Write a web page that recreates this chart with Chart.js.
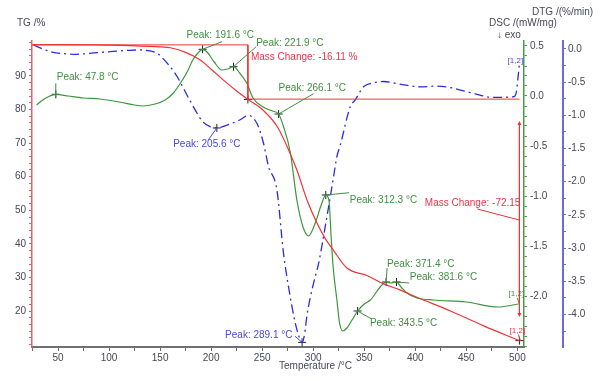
<!DOCTYPE html>
<html><head><meta charset="utf-8">
<script src="https://cdn.jsdelivr.net/npm/chart.js@4/dist/chart.umd.min.js"></script>
<style>html,body{margin:0;padding:0;background:#fff;}canvas{display:block;}</style>
</head><body>
<canvas id="c" width="600" height="381"></canvas>
<script>
// ---- data ----
const tgTemp = [25, 50, 100, 140, 160, 175, 189, 200, 215, 225, 236, 251, 265, 276, 284, 294, 304, 312, 320, 333, 352.6, 369, 385, 401.6, 434, 467, 502];
const tgValue = [99.3, 99.3, 99.2, 98.8, 98.4, 97.0, 94.8, 92.0, 88.0, 85.5, 83.0, 79.8, 74.8, 67.9, 62.0, 53.0, 46.0, 41.5, 38.0, 32.8, 30.6, 28.1, 26.3, 24.1, 20.1, 15.6, 11.2];

const dscTemp = [29, 35, 42, 47.8, 60, 75, 91, 110, 125, 133, 145, 155, 163, 170, 177, 182, 187, 191.6, 196, 203, 210.5, 216, 221.9, 228, 235, 241, 251, 260, 266.1, 271, 277.5, 284, 290, 295.4, 302, 308.5, 312.3, 315.5, 317.5, 319.6, 323.2, 325.8, 329, 333, 338, 343.5, 350, 356, 365.6, 371.4, 376, 381.6, 386, 391.8, 401.6, 418, 450, 481, 501];
const dscValue = [-0.09, -0.04, 0.0, 0.017, 0.0, -0.02, -0.03, -0.06, -0.09, -0.10, -0.08, -0.04, 0.03, 0.13, 0.25, 0.36, 0.43, 0.467, 0.44, 0.34, 0.26, 0.27, 0.293, 0.23, 0.127, -0.02, -0.11, -0.15, -0.18, -0.31, -0.56, -1.04, -1.31, -1.40, -1.27, -1.07, -0.99, -1.05, -1.40, -1.72, -2.04, -2.27, -2.35, -2.32, -2.24, -2.15, -2.08, -2.04, -1.91, -1.86, -1.87, -1.86, -1.91, -1.97, -2.02, -2.04, -2.06, -2.11, -2.08];

const dtgTemp = [26, 35, 45, 55, 68, 85, 101, 120, 130, 140, 147, 155, 166, 179, 192, 199, 205.6, 215, 228, 236.6, 244.8, 251.3, 256.2, 264.4, 270.9, 276, 282, 286, 289.1, 291.5, 294, 300.3, 305, 313.4, 320, 323.2, 326.5, 336.3, 341, 349.3, 359, 369, 385, 405, 421, 437, 457, 476.6, 496.4, 499, 500.5, 502];
const dtgValue = [0.06, 0.0, -0.05, -0.07, -0.08, -0.06, -0.04, -0.02, -0.015, -0.03, -0.065, -0.18, -0.40, -0.77, -1.10, -1.17, -1.19, -1.15, -1.07, -1.00, -1.12, -1.42, -1.77, -2.12, -3.08, -3.60, -4.10, -4.33, -4.42, -4.30, -4.00, -3.53, -3.25, -2.53, -1.92, -1.62, -1.45, -0.87, -0.77, -0.57, -0.51, -0.49, -0.53, -0.57, -0.56, -0.59, -0.67, -0.73, -0.72, -0.65, -0.45, -0.22];

const greenPeakT = [47.8, 191.6, 221.9, 266.1, 312.3, 343.5, 371.4, 381.6];
const greenPeakV = [0.017, 0.467, 0.293, -0.18, -0.99, -2.15, -1.86, -1.86];
const bluePeakT = [205.6, 289.1];
const bluePeakV = [-1.19, -4.42];

const massStepT = [24.5, 236, 236, 502];
const massStepV = [99.25, 99.25, 83.1, 83.1];
const massVertT = [502, 502];
const massVertV = [76.0, 18.8];
const massMidV = [91.2, 47.1];
const massLabels = ['Mass Change: -16.11 %', 'Mass Change: -72.15'];
const redMarkT = [236, 502];
const redMarkV = [83.0, 11.2];

// ---- styles / label placement (pixels) ----
const greenOff = [[1,-17,0,-11],[-16,-13.6,19.4,-7.6],[22.7,-23.7,22.7,-20],[0,-25.3,35,-20.3],[24,5,23.3,-2.3],[12.3,12,13.3,7.6],[1,-17.3,1,-14],[13.3,-4.3,12.6,1]];
const blueOff = [[-43.7,16.7,-8.4,11.7],[-77,-7,-7,-6]];

const FONT = '"Liberation Sans", Arial, sans-serif';
const TXT = '#474756';
const RED = '#ee3434', GREEN = '#3b963b', BLUE = '#2b2be6';
const pts = (xs, ys) => xs.map((x, i) => ({x: x, y: ys[i]}));
const fmtPeak = t => 'Peak: ' + t.toFixed(1) + ' \u00B0C';

const annot = {
  id: 'annot',
  afterDatasetsDraw(chart) {
    const ctx = chart.ctx, sx = chart.scales.x, sT = chart.scales.yTG, sD = chart.scales.yDSC, sG = chart.scales.yDTG;
    ctx.save();
    ctx.font = '10px ' + FONT;
    ctx.textBaseline = 'middle';
    ctx.lineWidth = 1;
    // green peak labels
    ctx.fillStyle = '#3f8f3f'; ctx.strokeStyle = '#3f8f3f';
    greenPeakT.forEach((t, i) => {
      const ax = sx.getPixelForValue(t), ay = sD.getPixelForValue(greenPeakV[i]);
      const o = greenOff[i];
      ctx.beginPath();
      if (i === 0) { ctx.moveTo(ax, ay + 3); } else { ctx.moveTo(ax, ay); }
      ctx.lineTo(ax + o[2], ay + o[3]); ctx.stroke();
      ctx.textAlign = 'left';
      ctx.fillText(fmtPeak(t), ax + o[0], ay + o[1]);
    });
    // blue peak labels
    ctx.fillStyle = '#4848e2'; ctx.strokeStyle = '#4848e2';
    bluePeakT.forEach((t, i) => {
      const ax = sx.getPixelForValue(t), ay = sG.getPixelForValue(bluePeakV[i]);
      const o = blueOff[i];
      ctx.beginPath();
      if (i === 1) { ctx.moveTo(ax + o[2], ay + o[3]); ctx.lineTo(ax, ay); }
      else { ctx.moveTo(ax, ay); ctx.lineTo(ax + o[2], ay + o[3]); }
      ctx.stroke();
      ctx.textAlign = 'left';
      ctx.fillText(fmtPeak(t), ax + o[0], ay + o[1]);
    });
    // mass change labels
    ctx.fillStyle = '#e8344a'; ctx.strokeStyle = RED;
    const x1 = sx.getPixelForValue(massStepT[1]);
    ctx.textAlign = 'left';
    ctx.fillText(massLabels[0], x1 + 3, sT.getPixelForValue(massStepV[0]) + 12);
    const x2 = sx.getPixelForValue(massVertT[0]);
    const ym = sT.getPixelForValue(massMidV[1]);
    ctx.textAlign = 'right';
    ctx.fillText(massLabels[1], x2 + 1, ym - 16.5);
    ctx.beginPath(); ctx.moveTo(x2 - 42, ym - 11); ctx.lineTo(x2, ym); ctx.stroke();
    // arrow heads on vertical mass line
    const yt = sT.getPixelForValue(massVertV[0]), yb = sT.getPixelForValue(massVertV[1]);
    ctx.fillStyle = RED;
    ctx.beginPath(); ctx.moveTo(x2, yt - 2); ctx.lineTo(x2 - 2, yt + 2); ctx.lineTo(x2 + 2, yt + 2); ctx.closePath(); ctx.fill();
    ctx.beginPath(); ctx.moveTo(x2, yb + 2); ctx.lineTo(x2 - 2, yb - 2); ctx.lineTo(x2 + 2, yb - 2); ctx.closePath(); ctx.fill();
    // [1,2] tags
    ctx.font = '8px ' + FONT; ctx.textAlign = 'center';
    const gx = sx.getPixelForValue(dscTemp[dscTemp.length - 1]), gy = sD.getPixelForValue(dscValue[dscValue.length - 1]);
    ctx.fillStyle = '#3f8f3f'; ctx.strokeStyle = '#3f8f3f';
    ctx.fillText('[1,2]', gx - 2, gy - 10);
    ctx.beginPath(); ctx.moveTo(gx - 1, gy - 6); ctx.lineTo(gx + 1, gy); ctx.stroke();
    const rx = sx.getPixelForValue(redMarkT[1]), ry = sT.getPixelForValue(redMarkV[1]);
    ctx.fillStyle = '#e8344a'; ctx.strokeStyle = RED;
    ctx.fillText('[1,2]', rx - 2, ry - 10);
    ctx.beginPath(); ctx.moveTo(rx - 1, ry - 6); ctx.lineTo(rx + 1, ry); ctx.stroke();
    const bx = sx.getPixelForValue(dtgTemp[dtgTemp.length - 1]), by = sG.getPixelForValue(dtgValue[dtgValue.length - 1]);
    ctx.fillStyle = '#4848e2';
    ctx.fillText('[1,2]', bx - 4, by - 3);
    // axis titles
    ctx.font = '10px ' + FONT; ctx.fillStyle = TXT; ctx.textAlign = 'left';
    ctx.fillText('TG /%', 17, 23);
    ctx.fillText('DTG /(%/min)', 532, 12);
    ctx.fillText('DSC /(mW/mg)', 489, 23);
    ctx.fillText('\u2193 exo', 497, 35);
    ctx.fillText('Temperature /\u00B0C', 279, 366);
    ctx.restore();
  }
};

const isMult = (v, m) => Math.abs(v / m - Math.round(v / m)) < 1e-6;
const tickFont = {family: FONT, size: 10};

new Chart(document.getElementById('c'), {
  type: 'line',
  data: {
    datasets: [
      {data: pts(tgTemp, tgValue), yAxisID: 'yTG', borderColor: RED, borderWidth: 1.2, pointRadius: 0, tension: 0.4, cubicInterpolationMode: 'monotone'},
      {data: pts(massStepT, massStepV), yAxisID: 'yTG', borderColor: RED, borderWidth: 1, pointRadius: 0, tension: 0},
      {data: pts(massVertT, massVertV), yAxisID: 'yTG', borderColor: RED, borderWidth: 1, pointRadius: 0, tension: 0},
      {data: pts(dscTemp, dscValue), yAxisID: 'yDSC', borderColor: GREEN, borderWidth: 1.2, pointRadius: 0, cubicInterpolationMode: 'monotone'},
      {data: pts(dtgTemp, dtgValue), yAxisID: 'yDTG', borderColor: BLUE, borderWidth: 1.3, borderDash: [9, 4, 2, 4], pointRadius: 0, cubicInterpolationMode: 'monotone'},
      {data: pts(greenPeakT, greenPeakV), yAxisID: 'yDSC', showLine: false, pointStyle: 'cross', pointRadius: 4, borderColor: '#222', borderWidth: 1},
      {data: pts(bluePeakT, bluePeakV), yAxisID: 'yDTG', showLine: false, pointStyle: 'cross', pointRadius: 4, borderColor: '#222', borderWidth: 1},
      {data: pts(redMarkT, redMarkV), yAxisID: 'yTG', showLine: false, pointStyle: 'cross', pointRadius: 4, borderColor: '#222', borderWidth: 1}
    ]
  },
  options: {
    responsive: false, animation: false, devicePixelRatio: 1,
    layout: {padding: {top: 41, left: 0, right: 0, bottom: 0}},
    plugins: {legend: {display: false}, tooltip: {enabled: false}},
    scales: {
      x: {
        type: 'linear', position: 'bottom', min: 24.5, max: 506.5,
        afterFit: s => { s.height = 34; },
        border: {color: '#707070', width: 2},
        grid: {drawOnChartArea: false, drawTicks: true, tickLength: 4, color: '#707070'},
        ticks: {stepSize: 25, includeBounds: false, autoSkip: false, maxRotation: 0, padding: 1, color: TXT, font: tickFont,
          callback: v => isMult(v, 50) ? String(v) : ''}
      },
      yTG: {
        type: 'linear', position: 'left', min: 9.3, max: 100.4,
        afterFit: s => { s.width = 32; },
        border: {color: '#e2606c', width: 1.5},
        grid: {drawOnChartArea: false, tickLength: 3, color: '#e2606c'},
        ticks: {stepSize: 2, includeBounds: false, autoSkip: false, padding: 3, color: TXT, font: tickFont,
          callback: v => (isMult(v, 10) && v >= 20 && v <= 90) ? String(Math.round(v)) : ''}
      },
      yDSC: {
        type: 'linear', position: 'right', min: -2.51, max: 0.55,
        afterFit: s => { s.width = 39; },
        border: {color: '#4a9a4a', width: 1.5},
        grid: {drawOnChartArea: false, tickLength: 3, color: '#4a9a4a'},
        ticks: {stepSize: 0.1, includeBounds: false, autoSkip: false, padding: 3, color: TXT, font: tickFont,
          callback: v => (isMult(v, 0.5) && v > -2.2) ? (Math.abs(v) < 1e-9 ? '0.0' : v.toFixed(1)) : ''}
      },
      yDTG: {
        type: 'linear', position: 'right', min: -4.49, max: 0.12,
        afterFit: s => { s.width = 37; },
        border: {color: '#6c6cd8', width: 2},
        grid: {drawOnChartArea: false, tickLength: 3, color: '#6c6cd8'},
        ticks: {stepSize: 0.25, includeBounds: false, autoSkip: false, padding: 2, color: TXT, font: tickFont,
          callback: v => isMult(v, 0.5) ? (Math.abs(v) < 1e-9 ? '0.0' : v.toFixed(1)) : ''}
      }
    }
  },
  plugins: [annot]
});
</script>
</body></html>
